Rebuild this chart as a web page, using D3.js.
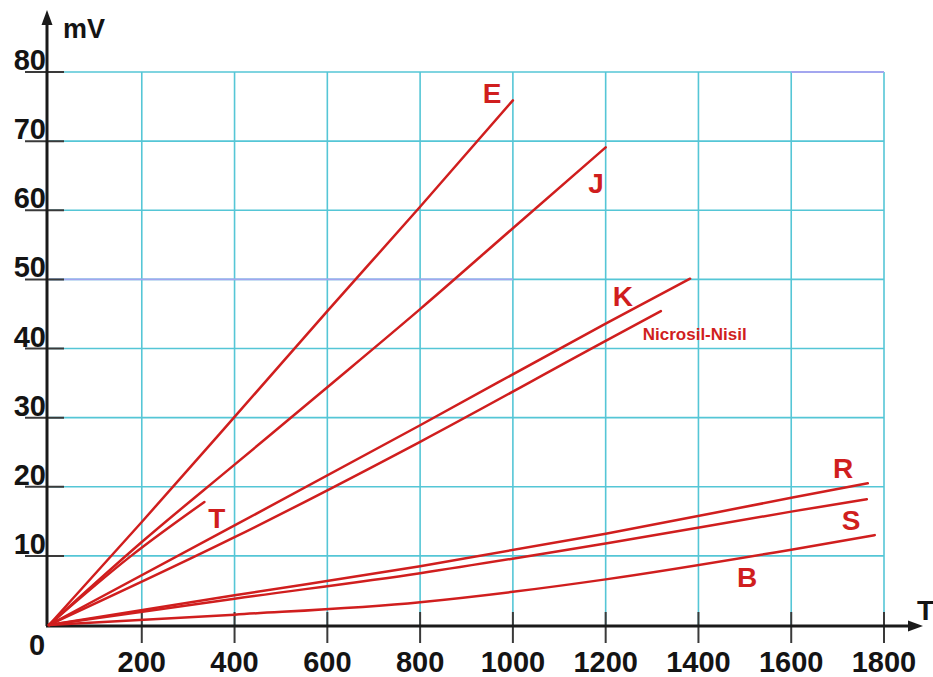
<!DOCTYPE html>
<html>
<head>
<meta charset="utf-8">
<script src="https://cdn.jsdelivr.net/npm/d3@7"></script>
<style>
  html, body { margin: 0; padding: 0; background: #fff; }
  svg { display: block; font-family: "Liberation Sans", Arial, sans-serif; }
</style>
</head>
<body>
<svg id="chart" width="933" height="677"></svg>
<script>
// ---- data (temperature °C, mV) ----
const xTicks = [200, 400, 600, 800, 1000, 1200, 1400, 1600, 1800];
const yTicks = [10, 20, 30, 40, 50, 60, 70, 80];

const seriesE = [[0,0],[200,14.9],[400,30.1],[600,45.4],[800,60.5],[1000,75.9]];
const seriesJ = [[0,0],[200,12.0],[400,23.2],[600,34.4],[800,45.7],[1000,57.4],[1200,69.1]];
const seriesT = [[0,0],[177,10],[335,17.8]];
const seriesK = [[0,0],[400,14.4],[800,28.9],[1200,43.6],[1382,50.1]];
const seriesN = [[0,0],[400,12.7],[800,26.5],[1200,41.1],[1319,45.4]];
const seriesR = [[0,0],[400,4.3],[800,8.5],[1200,13.2],[1600,18.4],[1765,20.5]];
const seriesS = [[0,0],[400,3.8],[800,7.5],[1200,11.8],[1600,16.4],[1763,18.2]];
const seriesB = [[0,0],[400,1.5],[800,3.3],[1000,4.8],[1200,6.6],[1600,10.9],[1780,13.0]];

const seriesNames = ["E", "J", "T", "K", "Nicrosil-Nisil", "R", "S", "B"];
const seriesData = [seriesE, seriesJ, seriesT, seriesK, seriesN, seriesR, seriesS, seriesB];
// label anchor points in data units (T, mV)
const labelT  = [955, 1179, 362, 1237, 1280, 1712, 1729, 1505];
const labelMV = [75.5, 62.5, 14.0, 46.1, 41.2, 21.3, 13.7, 5.5];

// ---- chart ----
const svg = d3.select("#chart");
const x = d3.scaleLinear().domain([0, 1800]).range([49, 884]);
const y = d3.scaleLinear().domain([0, 80]).range([625, 72]);

const gridColor = "#55c6d6";
const red = "#d01e1e";

// gridlines
const grid = svg.append("g");
grid.selectAll("line.h").data(yTicks).join("line")
  .attr("x1", x(0)).attr("x2", x(1800))
  .attr("y1", d => y(d)).attr("y2", d => y(d))
  .attr("stroke", gridColor).attr("stroke-width", 1.6);
grid.selectAll("line.v").data(xTicks).join("line")
  .attr("x1", d => x(d)).attr("x2", d => x(d))
  .attr("y1", y(0)).attr("y2", y(80))
  .attr("stroke", gridColor).attr("stroke-width", 1.6);
// lavender-tinted gridline segments seen in the original
grid.append("line").attr("x1", x(0)).attr("x2", x(1000)).attr("y1", y(50)).attr("y2", y(50))
  .attr("stroke", "#a3a6ef").attr("stroke-width", 1.8);
grid.append("line").attr("x1", x(1600)).attr("x2", x(1800)).attr("y1", y(80)).attr("y2", y(80))
  .attr("stroke", "#a3a6ef").attr("stroke-width", 1.8);

// tick marks
const ticks = svg.append("g").attr("stroke", "#3a3a3a").attr("stroke-width", 2);
ticks.selectAll("line.yt").data(yTicks).join("line")
  .attr("x1", 25).attr("x2", 64)
  .attr("y1", d => y(d)).attr("y2", d => y(d));
ticks.selectAll("line.xt").data(xTicks).join("line")
  .attr("x1", d => x(d)).attr("x2", d => x(d))
  .attr("y1", y(0) - 13).attr("y2", y(0) + 18);

// axes with arrows
const axisG = svg.append("g");
axisG.append("line").attr("x1", 47).attr("x2", 47).attr("y1", y(0) + 1).attr("y2", 20)
  .attr("stroke", "#1a1a1a").attr("stroke-width", 3);
axisG.append("path").attr("d", "M47,10 L41.5,25 L52.5,25 Z").attr("fill", "#1a1a1a");
axisG.append("line").attr("x1", 46).attr("x2", 912).attr("y1", y(0) + 1).attr("y2", y(0) + 1)
  .attr("stroke", "#1a1a1a").attr("stroke-width", 3);
axisG.append("path").attr("d", `M923,${y(0)+1} L908,${y(0)-4.5} L908,${y(0)+6.5} Z`).attr("fill", "#1a1a1a");

// tick labels
const lbl = svg.append("g").attr("font-weight", "bold").attr("fill", "#141414").attr("font-size", 29);
lbl.selectAll("text.xl").data(xTicks).join("text")
  .attr("x", d => x(d)).attr("y", 672).attr("text-anchor", "middle").text(d => d);
lbl.selectAll("text.yl").data(yTicks).join("text")
  .attr("x", 46).attr("y", d => y(d) - 2).attr("text-anchor", "end").text(d => d);
lbl.append("text").attr("x", 37).attr("y", 655).attr("text-anchor", "middle").text("0");
lbl.append("text").attr("x", 63).attr("y", 38).attr("font-size", 27).text("mV");
lbl.append("text").attr("x", 917).attr("y", 620).attr("font-size", 28).text("T");

// curves
const line = d3.line().x(d => x(d[0])).y(d => y(d[1])).curve(d3.curveMonotoneX);
svg.append("g").selectAll("path").data(seriesData).join("path")
  .attr("d", line).attr("fill", "none").attr("stroke", red)
  .attr("stroke-width", 2.5).attr("stroke-linecap", "round");

// series labels
svg.append("g").attr("font-weight", "bold").attr("fill", red)
  .selectAll("text").data(seriesNames).join("text")
  .attr("x", (d, i) => x(labelT[i]))
  .attr("y", (d, i) => y(labelMV[i]))
  .attr("text-anchor", d => d === "Nicrosil-Nisil" ? "start" : "middle")
  .attr("font-size", d => d === "Nicrosil-Nisil" ? 17 : 28)
  .text(d => d);
</script>
</body>
</html>
